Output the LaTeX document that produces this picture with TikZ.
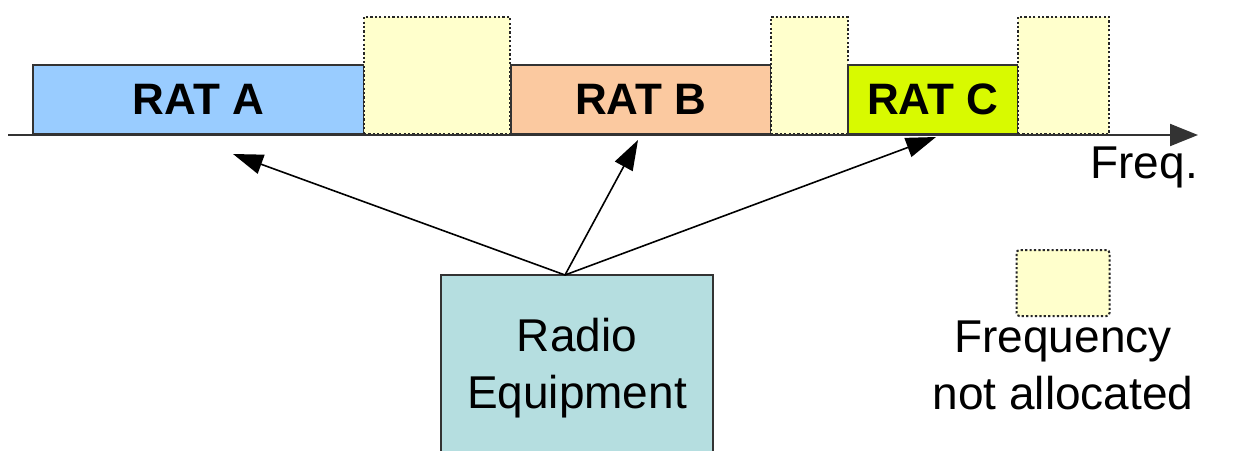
\documentclass[tikz,border=0pt]{standalone}
\usepackage{fontspec}
\setmainfont{Liberation Sans}
\usetikzlibrary{arrows.meta}
\definecolor{ratA}{HTML}{99CCFF}
\definecolor{ratB}{HTML}{FBC9A0}
\definecolor{ratC}{HTML}{D8FA00}
\definecolor{freeY}{HTML}{FFFFCC}
\definecolor{radioC}{HTML}{B5DEE0}
\definecolor{edgeC}{HTML}{333333}
\begin{document}
\begin{tikzpicture}[x=1pt,y=-1pt,
  band/.style={draw=edgeC, line width=1.6pt, inner sep=0pt, anchor=south west,
    minimum height=69pt, font=\fontsize{44}{50}\selectfont\bfseries},
  freeband/.style={draw=black!85, dash pattern=on 2.2pt off 2.2pt, line width=2pt,
    fill=freeY, inner sep=0pt, anchor=south west, minimum height=117pt},
  link/.style={line width=1.6pt, black, -{Triangle[length=30pt,width=20pt]}},
  lbl/.style={font=\fontsize{46}{57}\selectfont, align=center, inner sep=0pt}]
\clip (0,0) rectangle (1239,450);
\fill[white] (0,0) rectangle (1239,450);
% frequency bands
\node[band, fill=ratA, minimum width=331pt] (ra) at (32,135) {RAT A};
\node[freeband, minimum width=146pt] (f1) at (363,135) {};
\node[band, fill=ratB, minimum width=260pt] (rb) at (510,135) {RAT B};
\node[freeband, minimum width=77pt] (f2) at (770,135) {};
\node[band, fill=ratC, minimum width=170pt] (rc) at (847,135) {RAT C};
\node[freeband, minimum width=91pt] (f3) at (1017,135) {};
% axis
\coordinate (ax0) at (8,135);
\coordinate (ax1) at (1198,135);
\draw[edgeC, line width=2pt, -{Triangle[length=28pt,width=22pt]}] (ax0) -- (ax1);
\node[font=\fontsize{46}{50}\selectfont, anchor=base east, inner sep=0pt] (freq) at (1198,178) {Freq.};
% radio equipment
\node[draw=edgeC, line width=1.2pt, fill=radioC, minimum width=272pt, minimum height=186pt,
  lbl] (radio) at (577,368) {Radio\\Equipment};
\coordinate (src) at (565,275);
\coordinate (tA) at (233,154);
\coordinate (tB) at (638,140);
\coordinate (tC) at (936,137);
\draw[link] (src) -- (tA);
\draw[link] (src) -- (tB);
\draw[link] (src) -- (tC);
% legend
\node[draw=black!85, dash pattern=on 2.2pt off 2.2pt, line width=2pt, fill=freeY,
  rounded corners=3pt, minimum width=93pt, minimum height=66pt, inner sep=0pt] (leg) at (1063,283) {};
\node[lbl, anchor=north] (legtxt) at (1063,321) {Frequency\\not allocated};
\end{tikzpicture}
\end{document}
